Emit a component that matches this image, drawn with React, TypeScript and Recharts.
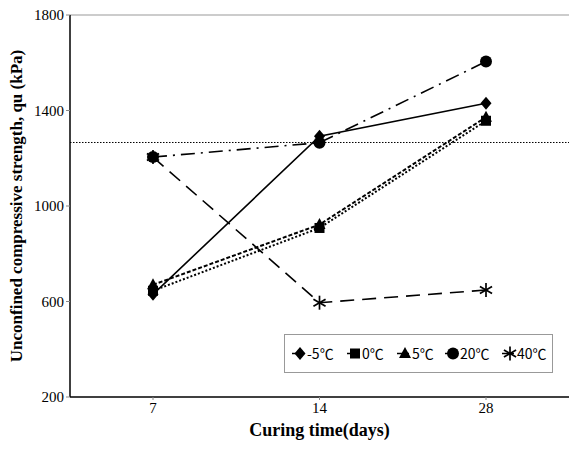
import React from 'react';
import { ComposedChart, Line, XAxis, YAxis, ReferenceLine, Legend } from 'recharts';

const days = ['7', '14', '28'];
const m5 = [630, 1292, 1430];
const t0 = [645, 908, 1357];
const t5 = [670, 922, 1372];
const t20 = [1205, 1265, 1605];
const t40 = [1205, 595, 648];
const yTicks = [200, 600, 1000, 1400, 1800];
const refValue = 1266;

const data = days.map((d, i) => ({ day: d, m5: m5[i], t0: t0[i], t5: t5[i], t20: t20[i], t40: t40[i] }));

type Kind = 'diamond' | 'square' | 'triangle' | 'circle' | 'star';

const Marker = ({ kind, cx, cy }: { kind: Kind; cx: number; cy: number }) => {
  if (kind === 'diamond') return <polygon points={`${cx},${cy - 6.5} ${cx + 5.5},${cy} ${cx},${cy + 6.5} ${cx - 5.5},${cy}`} fill="#000" />;
  if (kind === 'square') return <rect x={cx - 5} y={cy - 5} width={10} height={10} fill="#000" />;
  if (kind === 'triangle') return <polygon points={`${cx},${cy - 6.5} ${cx + 6},${cy + 4.5} ${cx - 6},${cy + 4.5}`} fill="#000" />;
  if (kind === 'circle') return <circle cx={cx} cy={cy} r={6} fill="#000" />;
  const r = 7;
  const a = 0.866 * r;
  return (
    <g stroke="#000" strokeWidth={1.7}>
      <line x1={cx} y1={cy - r} x2={cx} y2={cy + r} />
      <line x1={cx - a} y1={cy - r / 2} x2={cx + a} y2={cy + r / 2} />
      <line x1={cx - a} y1={cy + r / 2} x2={cx + a} y2={cy - r / 2} />
    </g>
  );
};

const makeDot = (kind: Kind) => (props: any) => {
  const { cx, cy, index } = props;
  return <Marker key={`${kind}-${index}`} kind={kind} cx={cx} cy={cy} />;
};

const legendItems: { kind: Kind; label: string; x: number }[] = [
  { kind: 'diamond', label: '-5℃', x: 16 },
  { kind: 'square', label: '0℃', x: 71 },
  { kind: 'triangle', label: '5℃', x: 121 },
  { kind: 'circle', label: '20℃', x: 169 },
  { kind: 'star', label: '40℃', x: 226 },
];

const LegendBox = () => (
  <svg width={269} height={39} style={{ display: 'block' }}>
    <rect x={0.5} y={0.5} width={268} height={38} fill="#fff" stroke="#999" />
    {legendItems.map((it) => (
      <g key={it.label}>
        <line x1={it.x - 8} y1={19.5} x2={it.x + 4} y2={19.5} stroke="#000" strokeWidth={1.5} />
        <Marker kind={it.kind} cx={it.x} cy={19.5} />
        <text x={it.x + 7} y={24.5} fontFamily="'Noto Sans CJK KR', 'Noto Sans', sans-serif" fontSize={14} fill="#000">{it.label}</text>
      </g>
    ))}
  </svg>
);

export default function App() {
  return (
    <div style={{ position: 'absolute', left: 0, top: 0, width: 569, height: 450, overflow: 'hidden', background: '#fff' }}>
      <ComposedChart width={569} height={450} data={data} margin={{ top: 15, right: 0, bottom: 0, left: 0 }}>
        <XAxis
          dataKey="day"
          height={53}
          padding={{ left: 83, right: 83 }}
          axisLine={{ stroke: '#000', strokeWidth: 1.5 }}
          tickLine={{ stroke: '#888' }}
          tickSize={3}
          tick={{ fill: '#000', fontFamily: "'Liberation Serif', serif", fontSize: 15 }}
          label={{ value: 'Curing time(days)', position: 'insideBottom', offset: 14, fill: '#000', fontFamily: "'Liberation Serif', serif", fontSize: 18, fontWeight: 'bold' }}
        />
        <YAxis
          type="number"
          domain={[200, 1800]}
          ticks={yTicks}
          width={70}
          axisLine={{ stroke: '#000', strokeWidth: 1.5 }}
          tickLine={{ stroke: '#888' }}
          tickSize={4}
          tick={{ fill: '#000', fontFamily: "'Liberation Serif', serif", fontSize: 15 }}
          label={{ value: 'Unconfined compressive strength, qu (kPa)', angle: -90, position: 'insideLeft', offset: 16, style: { textAnchor: 'middle' }, fill: '#000', fontFamily: "'Liberation Serif', serif", fontSize: 17, fontWeight: 'bold' }}
        />
        <ReferenceLine y={1800} stroke="#999" strokeWidth={1} />
        <ReferenceLine y={refValue} stroke="#000" strokeWidth={1} strokeDasharray="1.5 1.5" />
        <Line dataKey="m5" stroke="#000" strokeWidth={1.6} dot={makeDot('diamond')} isAnimationActive={false} />
        <Line dataKey="t0" stroke="#000" strokeWidth={2} strokeDasharray="2 2" dot={makeDot('square')} isAnimationActive={false} />
        <Line dataKey="t5" stroke="#000" strokeWidth={2} strokeDasharray="4 2" dot={makeDot('triangle')} isAnimationActive={false} />
        <Line dataKey="t20" stroke="#000" strokeWidth={1.6} strokeDasharray="14 6 2 6" dot={makeDot('circle')} isAnimationActive={false} />
        <Line dataKey="t40" stroke="#000" strokeWidth={1.6} strokeDasharray="14 8" dot={makeDot('star')} isAnimationActive={false} />
        <Legend
          verticalAlign="middle"
          align="center"
          content={() => <LegendBox />}
          wrapperStyle={{ position: 'absolute', left: 284, top: 334, width: 269, height: 39 }}
        />
      </ComposedChart>
    </div>
  );
}
